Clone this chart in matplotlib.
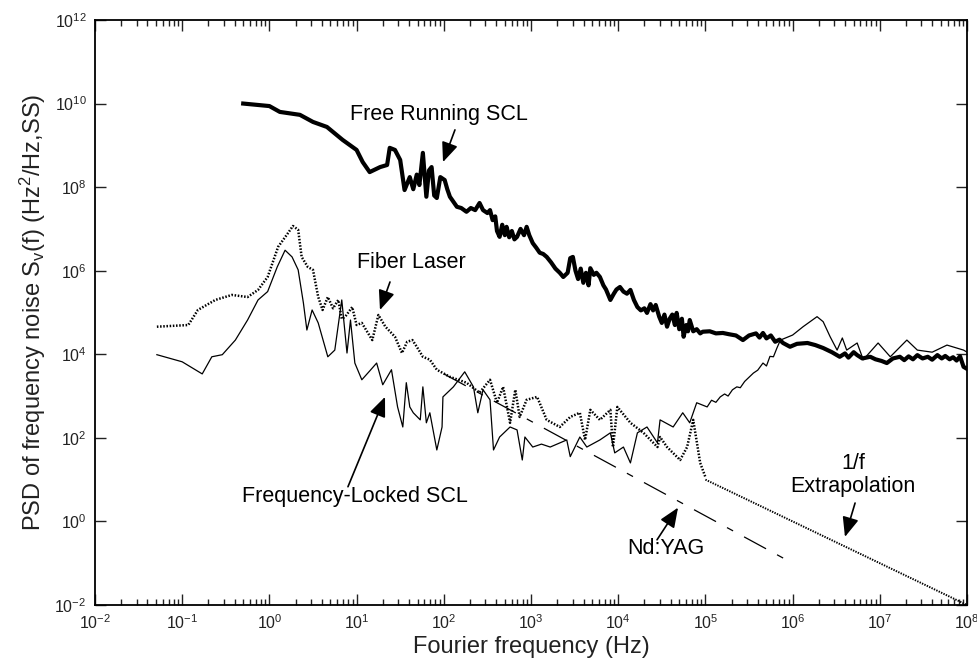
import numpy as np
import matplotlib
matplotlib.use('Agg')
import matplotlib.pyplot as plt
from matplotlib.ticker import FixedLocator, NullLocator, LogLocator

plt.rcParams['font.family'] = ['Liberation Sans', 'DejaVu Sans']
plt.rcParams['mathtext.fontset'] = 'custom'
plt.rcParams['mathtext.rm'] = 'Liberation Sans'
plt.rcParams['mathtext.it'] = 'Liberation Sans:italic'
plt.rcParams['mathtext.default'] = 'regular'
plt.rcParams['lines.scale_dashes'] = False

# spectra as log10 pairs: frequency exponent, PSD exponent
free_f = [-0.30, 0.00, 0.12, 0.35, 0.50, 0.66, 0.84, 1.00, 1.07, 1.15, 1.27,
          1.35, 1.38, 1.44, 1.50, 1.55, 1.61, 1.65, 1.69, 1.72, 1.76, 1.80,
          1.83, 1.86, 1.89, 1.92, 1.96, 2.01, 2.04, 2.07, 2.11, 2.15, 2.20,
          2.26, 2.31, 2.36, 2.41, 2.45, 2.50, 2.53, 2.56, 2.59, 2.61, 2.64,
          2.67, 2.70, 2.72, 2.75, 2.78, 2.81, 2.84, 2.88, 2.92, 2.95, 2.98,
          3.02, 3.06, 3.10, 3.14, 3.18, 3.23, 3.28, 3.33, 3.37, 3.42, 3.45,
          3.48, 3.51, 3.54, 3.57, 3.60, 3.63, 3.66, 3.68, 3.72, 3.75, 3.79,
          3.83, 3.86, 3.91, 3.95, 3.98, 4.02, 4.06, 4.10, 4.14, 4.18, 4.22,
          4.26, 4.30, 4.33, 4.37, 4.40, 4.43, 4.47, 4.50, 4.53, 4.56, 4.59,
          4.62, 4.65, 4.67, 4.70, 4.73, 4.75, 4.78, 4.80, 4.82, 4.86, 4.90,
          4.94, 4.97, 5.05, 5.12, 5.20, 5.27, 5.35, 5.43, 5.50, 5.58, 5.62,
          5.66, 5.70, 5.75, 5.80, 5.85, 5.89, 5.97, 6.05, 6.17, 6.26, 6.35,
          6.45, 6.54, 6.60, 6.64, 6.70, 6.74, 6.80, 6.89, 6.95, 7.02, 7.08,
          7.15, 7.23, 7.28, 7.33, 7.38, 7.43, 7.49, 7.55, 7.60, 7.66, 7.71,
          7.75, 7.80, 7.84, 7.88, 7.92, 7.96, 8.00]
free_psd = [10.00, 9.94, 9.80, 9.73, 9.56, 9.44, 9.13, 8.89, 8.60, 8.36, 8.48,
            8.53, 8.94, 8.89, 8.65, 7.93, 8.24, 7.95, 8.30, 8.05, 8.82, 7.77,
            8.40, 8.48, 7.80, 7.74, 8.24, 8.17, 7.95, 7.77, 7.65, 7.53, 7.50,
            7.41, 7.50, 7.45, 7.62, 7.45, 7.38, 7.45, 7.21, 7.30, 6.95, 6.81,
            7.10, 6.85, 7.05, 6.80, 6.95, 6.75, 6.81, 7.00, 6.85, 7.05, 6.85,
            6.66, 6.55, 6.43, 6.40, 6.33, 6.20, 6.05, 5.95, 5.85, 5.95, 6.30,
            6.33, 6.00, 5.80, 6.05, 5.71, 5.95, 5.65, 6.06, 5.90, 5.95, 5.85,
            5.65, 5.55, 5.30, 5.45, 5.55, 5.61, 5.50, 5.45, 5.54, 5.30, 5.13,
            5.05, 5.10, 4.99, 5.20, 5.05, 5.18, 4.90, 4.75, 4.95, 4.66, 4.85,
            4.95, 4.70, 4.99, 4.60, 4.85, 4.42, 4.70, 4.55, 4.82, 4.55, 4.60,
            4.50, 4.54, 4.55, 4.50, 4.51, 4.48, 4.45, 4.34, 4.45, 4.50, 4.40,
            4.51, 4.38, 4.45, 4.30, 4.35, 4.27, 4.18, 4.25, 4.27, 4.22, 4.15,
            4.05, 3.94, 4.02, 3.92, 4.05, 3.98, 3.90, 3.94, 3.88, 3.84, 3.79,
            3.90, 3.94, 3.86, 3.95, 3.88, 3.98, 3.90, 3.94, 3.87, 3.98, 3.90,
            3.96, 3.88, 3.93, 3.85, 3.95, 3.70, 3.65]

locked_f = [-1.29, -1.00, -0.77, -0.66, -0.54, -0.39, -0.25, -0.13, -0.02,
            0.09, 0.18, 0.26, 0.33, 0.39, 0.43, 0.49, 0.56, 0.67, 0.75, 0.83,
            0.89, 0.93, 0.98, 1.06, 1.15, 1.23, 1.30, 1.40, 1.47, 1.53, 1.57,
            1.61, 1.65, 1.73, 1.76, 1.80, 1.84, 1.92, 1.98, 1.99, 2.11, 2.24,
            2.34, 2.39, 2.45, 2.53, 2.57, 2.64, 2.76, 2.84, 2.90, 2.93, 3.02,
            3.12, 3.22, 3.41, 3.45, 3.56, 3.64, 3.79, 3.91, 3.96, 4.06, 4.14,
            4.22, 4.33, 4.45, 4.48, 4.63, 4.74, 4.82, 4.90, 5.02, 5.07, 5.12,
            5.17, 5.22, 5.26, 5.31, 5.36, 5.40, 5.45, 5.50, 5.55, 5.60, 5.66,
            5.70, 5.74, 5.78, 5.82, 5.86, 6.00, 6.12, 6.28, 6.35, 6.43, 6.51,
            6.57, 6.62, 6.74, 6.81, 6.98, 7.12, 7.31, 7.43, 7.60, 7.77, 7.96,
            8.00]
locked_psd = [3.99, 3.82, 3.53, 3.94, 3.99, 4.34, 4.82, 5.30, 5.50,
              6.09, 6.49, 6.33, 6.02, 5.23, 4.58, 5.06, 4.75, 3.94, 4.10, 5.30,
              4.03, 4.82, 3.79, 3.39, 3.60, 3.79, 3.27, 3.63, 2.74, 2.26, 3.32,
              2.74, 2.60, 2.43, 3.22, 2.36, 2.60, 1.71, 2.26, 2.98, 3.22, 3.58,
              3.22, 2.60, 3.15, 2.91, 1.71, 2.02, 2.26, 2.19, 1.47, 2.02, 1.78,
              1.85, 1.78, 1.95, 1.55, 2.02, 1.78, 1.95, 2.12, 1.64, 1.78, 1.40,
              2.12, 2.26, 1.88, 2.43, 2.26, 2.60, 2.36, 2.84, 2.74, 2.90, 2.85,
              2.98, 3.05, 3.00, 3.15, 3.22, 3.20, 3.35, 3.45, 3.55, 3.62, 3.79,
              3.72, 3.95, 3.94, 4.15, 4.34, 4.46, 4.66, 4.90, 4.78, 4.42, 4.10,
              4.39, 4.10, 4.27, 3.87, 4.27, 3.94, 4.34, 4.10, 4.05, 4.22, 4.10,
              4.05]

fiber_f = [-1.29, -0.93, -0.82, -0.62, -0.43, -0.25, -0.13, -0.02, 0.10,
           0.20, 0.27, 0.33, 0.37, 0.44, 0.50, 0.56, 0.61, 0.67, 0.73, 0.79,
           0.83, 0.87, 0.95, 1.00, 1.06, 1.18, 1.25, 1.33, 1.44, 1.52, 1.58,
           1.64, 1.69, 1.76, 1.84, 1.92, 2.07, 2.26, 2.41, 2.53, 2.61, 2.68,
           2.76, 2.82, 2.87, 2.95, 3.07, 3.18, 3.33, 3.45, 3.56, 3.62, 3.68,
           3.79, 3.91, 3.94, 3.99, 4.14, 4.29, 4.45, 4.48, 4.56, 4.71, 4.79,
           4.86, 4.94, 5.00]
fiber_psd = [4.66, 4.70, 5.06, 5.30, 5.42, 5.37, 5.54, 5.85, 6.57,
             6.86, 7.07, 6.98, 6.33, 6.09, 6.02, 5.37, 5.06, 5.37, 5.10, 5.30,
             4.85, 4.90, 5.13, 4.70, 4.75, 4.34, 4.94, 4.66, 4.42, 4.03, 4.30,
             4.34, 4.18, 3.94, 3.87, 3.63, 3.46, 3.32, 3.08, 3.39, 2.84, 3.22,
             2.36, 3.15, 2.50, 2.91, 2.98, 2.43, 2.26, 2.50, 2.60, 1.95, 2.67,
             2.43, 2.67, 1.78, 2.74, 2.36, 2.12, 1.78, 2.02, 1.78, 1.47, 1.78,
             2.43, 1.40, 1.06]

# 1/f extrapolation of the fiber laser and the Nd:YAG reference (Hz, Hz^2/Hz)
extrap_f = [1e5, 1e8]
extrap_psd = [10.0, 0.01]
yag_f = [1e2, 1e6]
yag_psd = [3.4e3, 0.10]

fig = plt.figure(figsize=(9.78, 6.66), dpi=100)
ax = fig.add_axes([0.0971, 0.0916, 0.8917, 0.8784])

ax.plot(10.0 ** np.array(locked_f), 10.0 ** np.array(locked_psd),
        color='black', lw=0.9)
ax.plot(10.0 ** np.array(fiber_f), 10.0 ** np.array(fiber_psd),
        color='black', lw=1.8, linestyle=(0, (1.1, 1.2)))
ax.plot(extrap_f, extrap_psd, color='black', lw=1.4, linestyle=(0, (1.0, 0.9)))
ax.plot(yag_f, yag_psd, color='black', lw=0.9,
        linestyle=(0, (18, 9, 5, 9)))
ax.plot(10.0 ** np.array(free_f), 10.0 ** np.array(free_psd),
        color='black', lw=3.0, solid_joinstyle='round')

ax.set_xscale('log')
ax.set_yscale('log')
ax.set_xlim(1e-2, 1e8)
ax.set_ylim(1e-2, 1e12)
ax.xaxis.set_major_locator(FixedLocator(10.0 ** np.arange(-2, 9)))
ax.xaxis.set_minor_locator(LogLocator(base=10, subs=np.arange(2, 10), numticks=20))
ax.yaxis.set_major_locator(FixedLocator(10.0 ** np.arange(-2, 13, 2)))
ax.yaxis.set_minor_locator(NullLocator())
ax.tick_params(which='both', direction='in', top=True, right=True,
               labelsize=11.5, colors='#222222', width=1.0)
ax.tick_params(which='major', length=8, pad=6)
ax.tick_params(which='minor', length=4)
for sp in ax.spines.values():
    sp.set_linewidth(1.3)

ax.set_xlabel('Fourier frequency (Hz)', fontsize=17, color='#222222', labelpad=3)
ax.set_ylabel('PSD of frequency noise S$_v$(f) (Hz$^2$/Hz,SS)', fontsize=17,
              color='#222222', labelpad=5)

tsize = 15.5
ax.text(88, 5.4e9, 'Free Running SCL', fontsize=tsize, ha='center', va='center')
ax.text(43, 1.55e6, 'Fiber Laser', fontsize=tsize, ha='center', va='center')
ax.text(9.6, 3.9, 'Frequency-Locked SCL', fontsize=tsize, ha='center', va='center')
ax.text(3.5e4, 0.23, 'Nd:YAG', fontsize=tsize, ha='center', va='center')
ax.text(4.9e6, 13, '1/f\nExtrapolation', fontsize=tsize, ha='center',
        va='center', linespacing=1.1)

arrows = [((10 ** 2.128, 10 ** 9.37), (10 ** 1.991, 10 ** 8.60)),
          ((10 ** 1.383, 10 ** 5.73), (10 ** 1.268, 10 ** 5.06)),
          ((10 ** 0.901, 10 ** 0.83), (10 ** 1.326, 10 ** 2.98)),
          ((10 ** 4.445, 10 ** -0.44), (10 ** 4.686, 10 ** 0.33)),
          ((10 ** 6.716, 10 ** 0.44), (10 ** 6.600, 10 ** -0.37))]
for tail, tip in arrows:
    ax.annotate('', xy=tip, xytext=tail,
                arrowprops=dict(arrowstyle='-|>,head_length=0.6,head_width=0.25',
                                mutation_scale=20, color='black', lw=1.2,
                                shrinkA=0, shrinkB=0))

fig.savefig('out.png', dpi=100)
